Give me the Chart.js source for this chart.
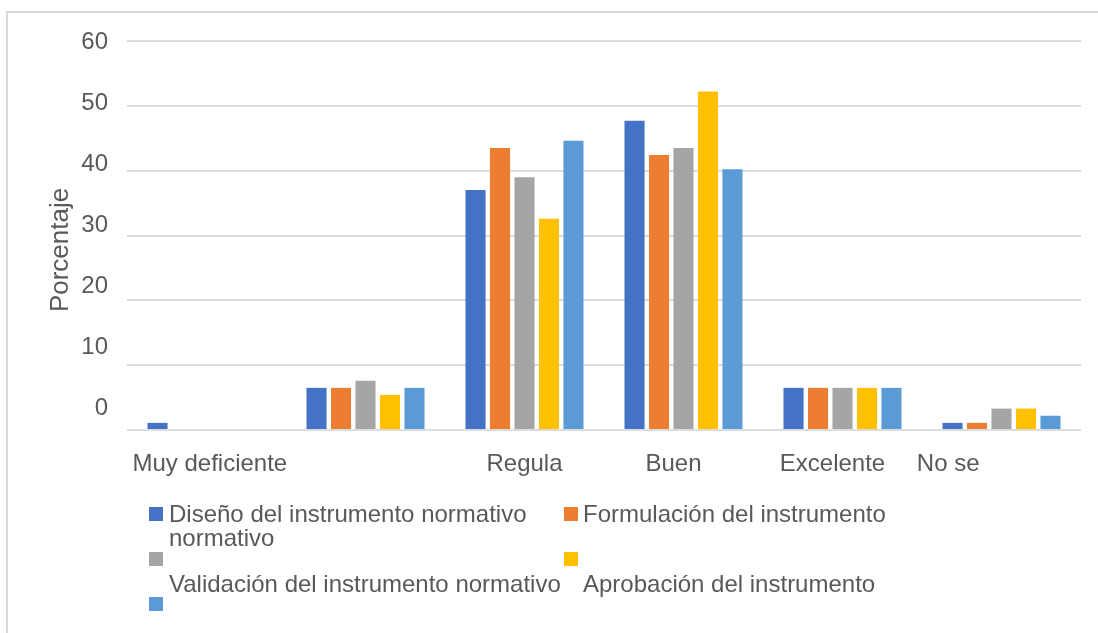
<!DOCTYPE html>
<html>
<head>
<meta charset="utf-8">
<script src="https://cdn.jsdelivr.net/npm/chart.js@4"></script>
<style>
  html, body { margin: 0; padding: 0; background: #fff; overflow: hidden; }
  #wrap { position: relative; width: 1098px; height: 633px; overflow: hidden; }
  #frame { position: absolute; left: 6px; top: 11px; width: 1300px; height: 800px; border-left: 2px solid #d9d9d9; border-top: 2px solid #d9d9d9; }
  #chart { position: absolute; left: 0; top: 0; }
</style>
</head>
<body>
<div id="wrap">
  <div id="frame"></div>
  <canvas id="chart" width="1098" height="633"></canvas>
</div>
<script>
const categories = [" Muy deficiente", "", "Regula", "Buen   ", "Excelente   ", "No se                "];

const seriesNames = [
    "Diseño del instrumento normativo",
    "Formulación del instrumento normativo",
    "Validación del instrumento normativo",
    "Aprobación del instrumento",
    "",
];

const diseno = [1.1, 6.5, 37.0, 47.7, 6.5, 1.1];
const formulacion = [0, 6.5, 43.5, 42.4, 6.5, 1.1];
const validacion = [0, 7.6, 39.0, 43.5, 6.5, 3.3];
const aprobacion = [0, 5.4, 32.6, 52.2, 6.5, 3.3];
const quinta = [0, 6.5, 44.6, 40.2, 6.5, 2.2];

const yTicks = [0, 10, 20, 30, 40, 50, 60];

const colors = ["#4472C4", "#ED7D31", "#A5A5A5", "#FFC000", "#5B9BD5"];
const textColor = "#595959";
const fontFamily = "'Liberation Sans', Arial, sans-serif";

// legend drawn by hand, the original one is wrapped oddly
const legendPlugin = {
    id: "oddLegend",
    afterDraw(chart) {
        const ctx = chart.ctx;
        ctx.save();
        const boxes = [[149, 507], [564, 507], [149, 552], [564, 552], [149, 597]];
        boxes.forEach((b, i) => {
            ctx.fillStyle = colors[i];
            ctx.fillRect(b[0], b[1], 14, 14);
        });
        const second = seriesNames[1];
        const cut = second.lastIndexOf(" ");
        const lines = [
            [seriesNames[0], 169, 522],
            [second.slice(0, cut), 583, 522],
            [second.slice(cut + 1), 169, 546],
            [seriesNames[2], 169, 592],
            [seriesNames[3], 583, 592],
        ];
        ctx.fillStyle = textColor;
        ctx.font = "24px " + fontFamily;
        ctx.textBaseline = "alphabetic";
        ctx.textAlign = "left";
        lines.forEach((l) => ctx.fillText(l[0], l[1], l[2]));
        ctx.restore();
    },
};

const allSeries = [diseno, formulacion, validacion, aprobacion, quinta];

const dataBar = {
    labels: categories,
    datasets: allSeries.map((d, i) => ({
        label: seriesNames[i],
        data: d,
        yAxisID: "y",
        backgroundColor: colors[i],
        categoryPercentage: 0.77,
        barPercentage: 0.82,
    })),
};

const configBar = {
    type: "bar",
    data: dataBar,
    options: {
        responsive: false,
        animation: false,
        layout: { padding: { left: 41, top: 41, right: 17, bottom: 143 } },
        plugins: {
            legend: { display: false },
            tooltip: { enabled: false },
        },
        scales: {
            x: {
                grid: { display: false, drawTicks: false },
                border: { display: false },
                ticks: {
                    color: textColor,
                    font: { family: fontFamily, size: 24 },
                    padding: 20,
                    autoSkip: false,
                    maxRotation: 0,
                },
                afterFit(scale) {
                    scale.height = 60;
                    scale.paddingLeft = 0;
                    scale.paddingRight = 0;
                },
            },
            yl: {
                position: "left",
                min: -3.5,
                max: 60.25,
                grid: { display: false, drawTicks: false },
                border: { display: false },
                ticks: {
                    stepSize: 10,
                    includeBounds: false,
                    color: textColor,
                    font: { family: fontFamily, size: 24 },
                    padding: 19,
                    callback: (v) => (yTicks.includes(v) ? String(v) : ""),
                },
                title: {
                    display: true,
                    text: "Porcentaje    ",
                    color: textColor,
                    font: { family: fontFamily, size: 26 },
                },
                afterFit(scale) { scale.width = 86; },
            },
            y: {
                position: "left",
                min: 0,
                max: 60,
                grid: { color: "#dcdcdc", lineWidth: 2, drawTicks: false },
                border: { display: false },
                ticks: { display: false, stepSize: 10 },
                afterFit(scale) { scale.width = 0; },
            },
        },
    },
    plugins: [legendPlugin],
};

let chartBar = new Chart(document.getElementById("chart"), configBar);
</script>
</body>
</html>
